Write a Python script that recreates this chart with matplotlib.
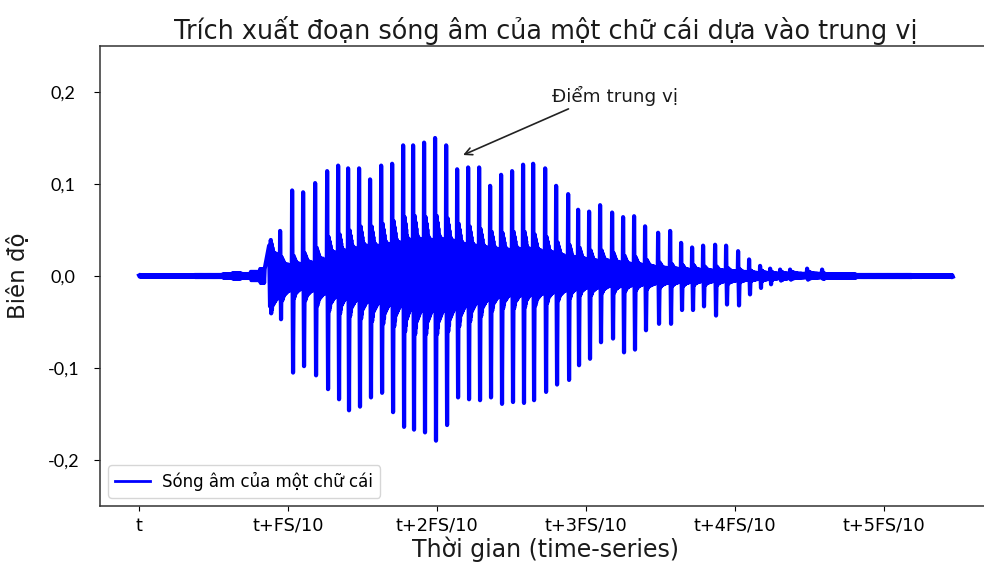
import numpy as np
import matplotlib
matplotlib.use("Agg")
import matplotlib.pyplot as plt

# ---- axis ticks (samples, FS = 16 kHz) ----
FS = 16000
x_ticks = [0, 1600, 3200, 4800, 6400, 8000]
x_tick_labels = ["t", "t+FS/10", "t+2FS/10", "t+3FS/10", "t+4FS/10", "t+5FS/10"]
y_ticks = [0.2, 0.1, 0.0, -0.1, -0.2]
y_tick_labels = ["0,2", "0,1", "0,0", "-0,1", "-0,2"]

# ---- glottal pulses of the voiced letter (sample index, peak values) ----
pulse_pos = [1396, 1514, 1643, 1761, 1890, 2019, 2137, 2244, 2362, 2480,
             2599, 2717, 2835, 2942, 3060, 3178, 3297, 3415, 3533, 3651,
             3769, 3887, 4005, 4123, 4231, 4360, 4478, 4607, 4714, 4832,
             4950, 5079, 5197, 5315, 5433, 5573, 5702, 5820, 5938, 6056,
             6185, 6303, 6432, 6550, 6668, 6776, 6883, 6990, 7173, 7334]
pulse_top = [0.033, 0.049, 0.093, 0.091, 0.101, 0.114, 0.120, 0.117, 0.117, 0.105,
             0.120, 0.122, 0.142, 0.142, 0.145, 0.150, 0.142, 0.116, 0.118, 0.118,
             0.098, 0.110, 0.114, 0.121, 0.122, 0.117, 0.098, 0.089, 0.072, 0.070,
             0.077, 0.069, 0.064, 0.065, 0.054, 0.047, 0.049, 0.036, 0.031, 0.033,
             0.034, 0.033, 0.027, 0.018, 0.011, 0.008, 0.007, 0.007, 0.008, 0.007]
pulse_bot = [-0.033, -0.047, -0.105, -0.098, -0.108, -0.123, -0.134, -0.146, -0.142, -0.132,
             -0.127, -0.148, -0.164, -0.167, -0.170, -0.179, -0.162, -0.132, -0.134, -0.135,
             -0.132, -0.139, -0.137, -0.138, -0.135, -0.126, -0.118, -0.113, -0.097, -0.090,
             -0.072, -0.068, -0.083, -0.080, -0.059, -0.052, -0.052, -0.037, -0.037, -0.033,
             -0.043, -0.031, -0.032, -0.020, -0.013, -0.009, -0.005, -0.004, -0.004, -0.003]
# level of the dense oscillation between two pulses
band_top = [0.027, 0.014, 0.015, 0.017, 0.021, 0.029, 0.031, 0.034, 0.037, 0.037,
            0.039, 0.041, 0.044, 0.045, 0.044, 0.045, 0.043, 0.039, 0.037, 0.035,
            0.033, 0.032, 0.033, 0.033, 0.031, 0.029, 0.025, 0.023, 0.021, 0.019,
            0.019, 0.017, 0.015, 0.014, 0.012, 0.010, 0.009, 0.008, 0.008, 0.007,
            0.007, 0.006, 0.005, 0.004, 0.004, 0.003, 0.003, 0.003, 0.003, 0.002]
band_bot = [-0.029, -0.019, -0.017, -0.019, -0.023, -0.027, -0.029, -0.031, -0.033, -0.035,
            -0.037, -0.039, -0.043, -0.045, -0.045, -0.045, -0.043, -0.039, -0.035, -0.031,
            -0.027, -0.025, -0.025, -0.024, -0.023, -0.021, -0.019, -0.017, -0.015, -0.015,
            -0.013, -0.013, -0.012, -0.011, -0.010, -0.009, -0.008, -0.008, -0.007, -0.007,
            -0.007, -0.006, -0.005, -0.004, -0.004, -0.003, -0.003, -0.002, -0.002, -0.002]
# relative amplitude of the ringing after each pulse
pulse_shape = [1.45, 1.40, 1.30, 1.25, 1.15, 1.10, 1.00, 1.05, 0.95, 1.00, 0.90, 0.95,
               0.85, 0.90, 0.90, 0.85, 0.80, 0.85, 0.80, 0.75, 0.80, 0.75, 0.70, 0.75]

# ---- silence before and after the letter ----
head_pos = [0, 300, 600, 900, 1000, 1100, 1200, 1300, 1353]
head_amp = [0.0006, 0.0008, 0.0012, 0.0018, 0.0028, 0.0022, 0.0045, 0.0075]
tail_pos = [7450, 7700, 8000, 8300, 8741]
tail_amp = [0.0018, 0.0012, 0.0012, 0.0008]

# ---- assemble the sample sequence ----
xs, ys = [], []


def quiet(pos, amp):
    for j in range(len(pos) - 1):
        seg = np.arange(pos[j], pos[j + 1], 6)
        sign = np.where(np.arange(len(seg)) % 2 == 0, 1.0, -1.0)
        xs.extend(seg.tolist())
        ys.extend((sign * amp[j]).tolist())


quiet(head_pos, head_amp)
ends = pulse_pos[1:] + [tail_pos[0]]
for i, p in enumerate(pulse_pos):
    xs += [p, p + 10]
    ys += [pulse_top[i], pulse_bot[i]]
    step = (ends[i] - p - 14) / (len(pulse_shape) + 1)
    for k, w in enumerate(pulse_shape):
        xs.append(p + 14 + (k + 1) * step)
        ys.append(w * (band_top[i] if k % 2 == 0 else band_bot[i]))
quiet(tail_pos, tail_amp)

# ---- figure ----
W, H = 984, 566
fig = plt.figure(figsize=(W / 100, H / 100), dpi=100)
ax = fig.add_axes([100 / W, 1 - 506 / H, 892 / W, 460 / H])

ax.plot(xs, ys, color="#0000ff", lw=3.0, label="Sóng âm của một chữ cái")

ax.set_xlim(-420, -420 + 892 / 149 * 1600)
ax.set_ylim(-0.25, 0.25)

ax.set_xticks(x_ticks)
ax.set_xticklabels(x_tick_labels, fontsize=12.8, family="DejaVu Sans")
ax.set_yticks(y_ticks)
ax.set_yticklabels(y_tick_labels, fontsize=13, family="Lato")
for lbl in ax.get_yticklabels():
    lbl.set_horizontalalignment("center")
ax.tick_params(axis="y", length=4.5, pad=22)
ax.tick_params(axis="x", length=3.8, pad=4)

for s in ax.spines.values():
    s.set_color("#333333")
    s.set_linewidth(1.1)

ax.set_title("Trích xuất đoạn sóng âm của một chữ cái dựa vào trung vị",
             fontsize=18.4, color="#1a1a1a", pad=5)
ax.set_xlabel("Thời gian (time-series)", fontsize=17, color="#1a1a1a")
ax.xaxis.set_label_coords(0.4995, -0.067)
ax.set_ylabel("Biên độ", fontsize=16.5, color="#1a1a1a")
ax.yaxis.set_label_coords(-0.079, 0.5)

ax.annotate("Điểm trung vị", xy=(3479, 0.1315), xytext=(4435, 0.189),
            fontsize=13.2, color="#1a1a1a", va="baseline", ha="left",
            arrowprops=dict(arrowstyle="->", color="#222222", lw=1.2,
                            relpos=(0.18, 0.0), shrinkA=0, shrinkB=0,
                            mutation_scale=13))

leg = ax.legend(loc="lower left", fontsize=12, handlelength=2.1,
                handletextpad=0.75, framealpha=0.8)
leg.get_lines()[0].set_linewidth(2.0)

fig.savefig("out.png", dpi=100)
